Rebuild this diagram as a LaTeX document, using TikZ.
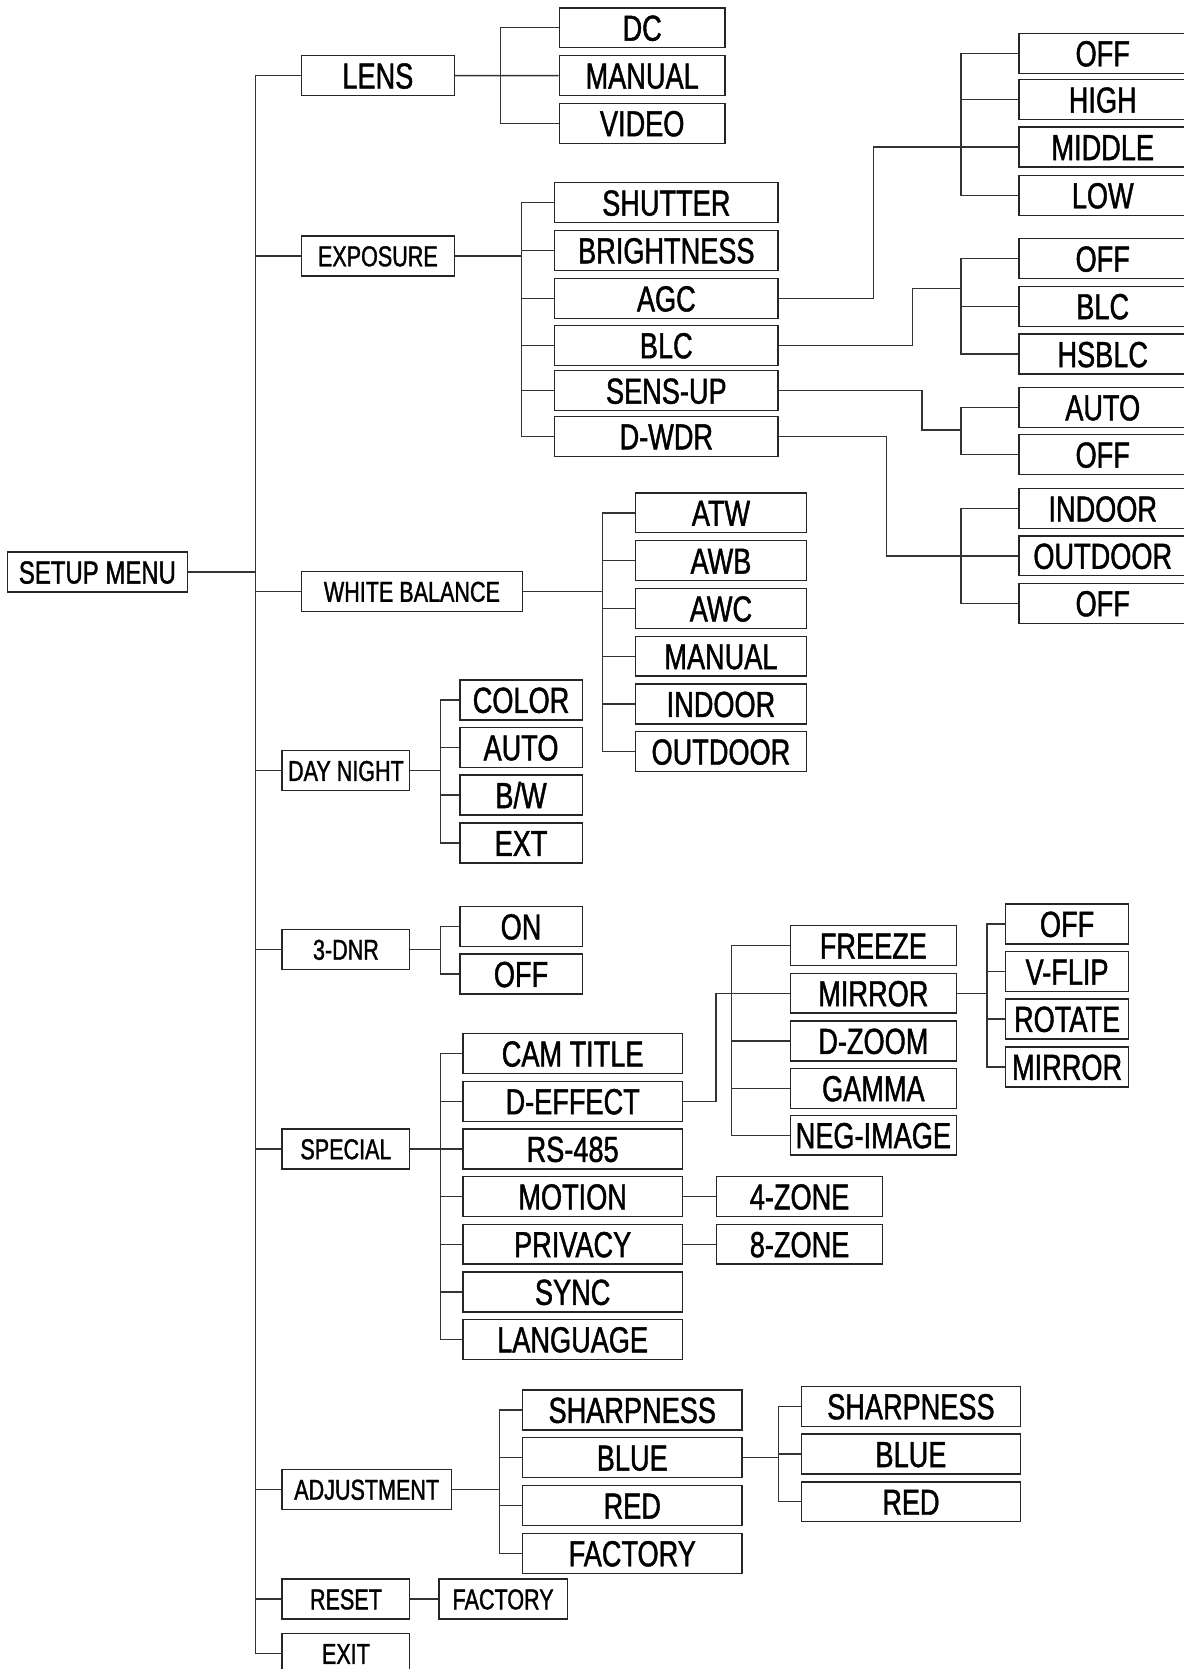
\documentclass[tikz,border=0pt]{standalone}
\usepackage{fontspec}
\setmainfont{Liberation Sans}[FakeStretch=0.75,FakeBold=1.2]
\tikzset{
 bx/.style={draw=black!85, line width=1.3pt, inner sep=0pt, minimum height=37.5pt, text=black},
 big/.style={bx, font=\fontsize{34}{34}\selectfont, text height=24.3pt, text depth=0pt},
 sml/.style={bx, font=\fontsize{27}{27}\selectfont, text height=19.3pt, text depth=0pt},
 rt/.style={bx, font=\fontsize{30}{30}\selectfont, text height=21.5pt, text depth=0pt},
 ln/.style={draw=black!80, line width=1.3pt},
}
\begin{document}
\begin{tikzpicture}[x=1pt,y=-1pt]
\useasboundingbox (0,0) rectangle (1112,1568);
\fill[white] (0,0) rectangle (1112,1568);
% root and level 1
\node[rt, minimum width=169pt] (setup) at (91.5,537.5) {SETUP MENU};
\node[big, minimum width=144pt] (lens) at (355,71) {LENS};
\node[sml, minimum width=144pt] (expo) at (355,240.5) {EXPOSURE};
\node[sml, minimum width=208pt] (wb) at (387,555.7) {WHITE BALANCE};
\node[sml, minimum width=120pt] (dn) at (325,724) {DAY NIGHT};
\node[sml, minimum width=120pt] (dnr) at (325,892) {3-DNR};
\node[sml, minimum width=120pt] (spec) at (325,1079.4) {SPECIAL};
\node[sml, minimum width=159pt] (adj) at (344.5,1399.3) {ADJUSTMENT};
\node[sml, minimum width=120pt] (reset) at (325,1502.3) {RESET};
\node[sml, minimum width=120pt] (exit) at (325,1553.5) {EXIT};
% lens
\node[big, minimum width=155.5pt] (dc) at (603.3,26.1) {DC};
\node[big, minimum width=155.5pt] (lmanual) at (603.3,71.1) {MANUAL};
\node[big, minimum width=155.5pt] (video) at (603.3,115.8) {VIDEO};
% exposure
\node[big, minimum width=210pt] (shutter) at (626,190.4) {SHUTTER};
\node[big, minimum width=210pt] (bright) at (626,235.2) {BRIGHTNESS};
\node[big, minimum width=210pt] (agc) at (626,280.4) {AGC};
\node[big, minimum width=210pt] (blc) at (626,324.4) {BLC};
\node[big, minimum width=210pt] (sens) at (626,367.1) {SENS-UP};
\node[big, minimum width=210pt] (dwdr) at (626,410) {D-WDR};
% right column
\node[big, minimum width=157pt] (aoff) at (1036,50.1) {OFF};
\node[big, minimum width=157pt] (ahigh) at (1036,93.6) {HIGH};
\node[big, minimum width=157pt] (amid) at (1036,138.2) {MIDDLE};
\node[big, minimum width=157pt] (alow) at (1036,183.5) {LOW};
\node[big, minimum width=157pt] (boff) at (1036,243) {OFF};
\node[big, minimum width=157pt] (bblc) at (1036,287.7) {BLC};
\node[big, minimum width=157pt] (bhs) at (1036,332.7) {HSBLC};
\node[big, minimum width=157pt] (sauto) at (1036,382.7) {AUTO};
\node[big, minimum width=157pt] (soff) at (1036,427.1) {OFF};
\node[big, minimum width=157pt] (dind) at (1036,477.8) {INDOOR};
\node[big, minimum width=157pt] (dout) at (1036,522.2) {OUTDOOR};
\node[big, minimum width=157pt] (doff) at (1036,566.8) {OFF};
% white balance
\node[big, minimum width=160.7pt] (atw) at (677.3,481.8) {ATW};
\node[big, minimum width=160.7pt] (awb) at (677.3,526.8) {AWB};
\node[big, minimum width=160.7pt] (awc) at (677.3,571.7) {AWC};
\node[big, minimum width=160.7pt] (wman) at (677.3,616.5) {MANUAL};
\node[big, minimum width=160.7pt] (wind) at (677.3,661.4) {INDOOR};
\node[big, minimum width=160.7pt] (wout) at (677.3,706.1) {OUTDOOR};
% day night
\node[big, minimum width=115pt] (color) at (489.5,657.5) {COLOR};
\node[big, minimum width=115pt] (auto) at (489.5,702.2) {AUTO};
\node[big, minimum width=115pt] (bw) at (489.5,747) {B/W};
\node[big, minimum width=115pt] (ext) at (489.5,792) {EXT};
% 3-dnr
\node[big, minimum width=115pt] (on) at (489.5,870.4) {ON};
\node[big, minimum width=115pt] (off) at (489.5,915.1) {OFF};
% special
\node[big, minimum width=206pt] (cam) at (538,989.8) {CAM TITLE};
\node[big, minimum width=206pt] (deff) at (538,1034.6) {D-EFFECT};
\node[big, minimum width=206pt] (rs) at (538,1079.4) {RS-485};
\node[big, minimum width=206pt] (motion) at (538,1124.1) {MOTION};
\node[big, minimum width=206pt] (priv) at (538,1168.9) {PRIVACY};
\node[big, minimum width=206pt] (sync) at (538,1213.7) {SYNC};
\node[big, minimum width=206pt] (lang) at (538,1258.3) {LANGUAGE};
\node[big, minimum width=155.6pt] (zone4) at (751.2,1124.1) {4-ZONE};
\node[big, minimum width=155.6pt] (zone8) at (751.2,1168.9) {8-ZONE};
% d-effect
\node[big, minimum width=155.7pt] (freeze) at (820.5,888.4) {FREEZE};
\node[big, minimum width=155.7pt] (mirror) at (820.5,933.1) {MIRROR};
\node[big, minimum width=155.7pt] (dzoom) at (820.5,977.9) {D-ZOOM};
\node[big, minimum width=155.7pt] (gamma) at (820.5,1022.4) {GAMMA};
\node[big, minimum width=155.7pt] (neg) at (820.5,1066.5) {NEG-IMAGE};
% mirror
\node[big, minimum width=115.5pt] (moff) at (1002.5,868) {OFF};
\node[big, minimum width=115.5pt] (vflip) at (1002.5,912.8) {V-FLIP};
\node[big, minimum width=115.5pt] (rotate) at (1002.5,957.2) {ROTATE};
\node[big, minimum width=115.5pt] (mmir) at (1002.5,1002.3) {MIRROR};
% adjustment
\node[big, minimum width=206.4pt] (sharp) at (594,1324.6) {SHARPNESS};
\node[big, minimum width=206.4pt] (blue) at (594,1369.4) {BLUE};
\node[big, minimum width=206.4pt] (red) at (594,1414.5) {RED};
\node[big, minimum width=206.4pt] (fact) at (594,1459.3) {FACTORY};
\node[big, minimum width=206.1pt] (sharp2) at (855.8,1321.2) {SHARPNESS};
\node[big, minimum width=206.1pt] (blue2) at (855.8,1366.1) {BLUE};
\node[big, minimum width=206.1pt] (red2) at (855.8,1410.9) {RED};
% reset
\node[sml, minimum width=120.4pt] (rfact) at (472.7,1502.3) {FACTORY};
% trunk and elbow coordinates
\coordinate (T0) at (240,0);
\coordinate (TL) at (470,0);
\coordinate (TE) at (490,0);
\coordinate (TR) at (902.7,0);
\coordinate (TW) at (566,0);
\coordinate (TD) at (414,0);
\coordinate (TF) at (687.4,0);
\coordinate (TM) at (927.3,0);
\coordinate (TA) at (469,0);
\coordinate (TB) at (731.5,0);
\coordinate (eA) at (820.6,0);
\coordinate (eB) at (857.5,0);
\coordinate (jB) at (902.7,271);
\coordinate (eC) at (866.3,0);
\coordinate (jC) at (902.7,403.9);
\coordinate (eD) at (833,0);
\coordinate (eE) at (672.7,0);
% main trunk
\draw[ln] (setup.east) -- (setup.east -| T0);
\draw[ln] (lens.west) -- (lens.west -| T0) -- (exit.west -| T0) -- (exit.west);
\foreach \n in {expo,wb,dn,dnr,spec,adj,reset} \draw[ln] (\n.west) -- (\n.west -| T0);
% lens
\draw[ln] (lens.east) -- (lmanual.west);
\draw[ln] (dc.west) -- (dc.west -| TL) -- (video.west -| TL) -- (video.west);
% exposure
\draw[ln] (expo.east) -- (expo.east -| TE);
\draw[ln] (shutter.west) -- (shutter.west -| TE) -- (dwdr.west -| TE) -- (dwdr.west);
\foreach \n in {bright,agc,blc,sens} \draw[ln] (\n.west) -- (\n.west -| TE);
% agc
\draw[ln] (agc.east) -- (agc.east -| eA) |- (amid.west);
\draw[ln] (aoff.west) -- (aoff.west -| TR) -- (alow.west -| TR) -- (alow.west);
\draw[ln] (ahigh.west) -- (ahigh.west -| TR);
% blc
\draw[ln] (blc.east) -- (blc.east -| eB) |- (jB);
\draw[ln] (boff.west) -- (boff.west -| TR) -- (bhs.west -| TR) -- (bhs.west);
\draw[ln] (bblc.west) -- (bblc.west -| TR);
% sens-up
\draw[ln] (sens.east) -- (sens.east -| eC) |- (jC);
\draw[ln] (sauto.west) -- (sauto.west -| TR) -- (soff.west -| TR) -- (soff.west);
% d-wdr
\draw[ln] (dwdr.east) -- (dwdr.east -| eD) |- (dout.west);
\draw[ln] (dind.west) -- (dind.west -| TR) -- (doff.west -| TR) -- (doff.west);
% white balance
\draw[ln] (wb.east) -- (wb.east -| TW);
\draw[ln] (atw.west) -- (atw.west -| TW) -- (wout.west -| TW) -- (wout.west);
\foreach \n in {awb,awc,wman,wind} \draw[ln] (\n.west) -- (\n.west -| TW);
% day night
\draw[ln] (dn.east) -- (dn.east -| TD);
\draw[ln] (color.west) -- (color.west -| TD) -- (ext.west -| TD) -- (ext.west);
\foreach \n in {auto,bw} \draw[ln] (\n.west) -- (\n.west -| TD);
% 3-dnr
\draw[ln] (dnr.east) -- (dnr.east -| TD);
\draw[ln] (on.west) -- (on.west -| TD) -- (off.west -| TD) -- (off.west);
% special
\draw[ln] (spec.east) -- (rs.west);
\draw[ln] (cam.west) -- (cam.west -| TD) -- (lang.west -| TD) -- (lang.west);
\foreach \n in {deff,motion,priv,sync} \draw[ln] (\n.west) -- (\n.west -| TD);
\draw[ln] (motion.east) -- (zone4.west);
\draw[ln] (priv.east) -- (zone8.west);
% d-effect
\draw[ln] (deff.east) -- (deff.east -| eE) |- (mirror.west);
\draw[ln] (freeze.west) -- (freeze.west -| TF) -- (neg.west -| TF) -- (neg.west);
\foreach \n in {dzoom,gamma} \draw[ln] (\n.west) -- (\n.west -| TF);
% mirror
\draw[ln] (mirror.east) -- (mirror.east -| TM);
\draw[ln] (moff.west) -- (moff.west -| TM) -- (mmir.west -| TM) -- (mmir.west);
\foreach \n in {vflip,rotate} \draw[ln] (\n.west) -- (\n.west -| TM);
% adjustment
\draw[ln] (adj.east) -- (adj.east -| TA);
\draw[ln] (sharp.west) -- (sharp.west -| TA) -- (fact.west -| TA) -- (fact.west);
\foreach \n in {blue,red} \draw[ln] (\n.west) -- (\n.west -| TA);
\draw[ln] (blue.east) -- (blue.east -| TB);
\draw[ln] (sharp2.west) -- (sharp2.west -| TB) -- (red2.west -| TB) -- (red2.west);
\draw[ln] (blue2.west) -- (blue2.west -| TB);
% reset
\draw[ln] (reset.east) -- (rfact.west);
\end{tikzpicture}
\end{document}
